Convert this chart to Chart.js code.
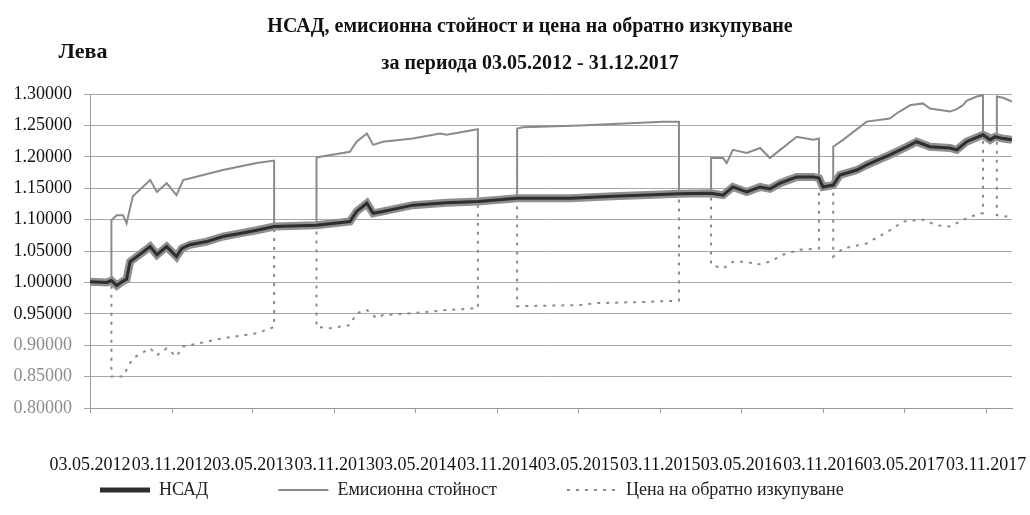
<!DOCTYPE html>
<html lang="bg">
<head>
<meta charset="utf-8">
<title>НСАД, емисионна стойност и цена на обратно изкупуване</title>
<script src="https://cdn.jsdelivr.net/npm/chart.js@4.4.1/dist/chart.umd.min.js"></script>
<style>
  html, body { margin: 0; padding: 0; background: #fff; }
  #wrap { width: 1030px; height: 515px; }
</style>
</head>
<body>
<div id="wrap"><canvas id="navChart" width="1030" height="515"></canvas></div>
<script>
// values (dates approximate)
const navDates = ['2012-05-03', '2012-06-10', '2012-06-20', '2012-07-02', '2012-07-16', '2012-07-24', '2012-08-01',
  '2012-08-16', '2012-09-15', '2012-09-30', '2012-10-22', '2012-11-13', '2012-11-25', '2012-12-13', '2013-01-20',
  '2013-02-25', '2013-04-04', '2013-05-12', '2013-06-20', '2013-09-23', '2013-12-07', '2013-12-22', '2014-01-14',
  '2014-01-28', '2014-02-19', '2014-04-27', '2014-07-12', '2014-09-20', '2014-12-17', '2015-04-15', '2015-07-20',
  '2015-10-04', '2015-12-15', '2016-02-25', '2016-03-23', '2016-04-14', '2016-05-15', '2016-06-14', '2016-07-06',
  '2016-07-29', '2016-09-04', '2016-10-11', '2016-10-24', '2016-11-02', '2016-11-25', '2016-12-10', '2017-01-17',
  '2017-02-08', '2017-04-01', '2017-05-09', '2017-05-31', '2017-06-30', '2017-08-14', '2017-08-29', '2017-09-20',
  '2017-10-27', '2017-11-12', '2017-11-23', '2017-12-11', '2017-12-31'];
const navValues = [1.001, 1.000, 1.003, 0.995, 1.002, 1.005, 1.033,
  1.041, 1.057, 1.044, 1.057, 1.041, 1.054, 1.060, 1.065,
  1.073, 1.078, 1.083, 1.089, 1.091, 1.097, 1.113, 1.126,
  1.110, 1.113, 1.123, 1.127, 1.129, 1.134, 1.134, 1.137,
  1.139, 1.141, 1.142, 1.139, 1.152, 1.144, 1.152, 1.149,
  1.158, 1.168, 1.168, 1.166, 1.152, 1.155, 1.171, 1.179,
  1.187, 1.203, 1.216, 1.224, 1.216, 1.214, 1.211, 1.224,
  1.235, 1.227, 1.232, 1.229, 1.227];

const emisDates = ['2012-05-03', '2012-06-10', '2012-06-20', '2012-06-20', '2012-07-02', '2012-07-16', '2012-07-24',
  '2012-08-07', '2012-09-15', '2012-09-30', '2012-10-22', '2012-11-13', '2012-11-28', '2013-02-25', '2013-05-12',
  '2013-06-20', '2013-06-20', '2013-09-23', '2013-09-23', '2013-10-08', '2013-12-07', '2013-12-22', '2014-01-14',
  '2014-01-28', '2014-02-19', '2014-04-27', '2014-06-27', '2014-07-12', '2014-09-20', '2014-09-20', '2014-12-17',
  '2014-12-17', '2014-12-30', '2015-05-07', '2015-11-09', '2015-12-15', '2015-12-15', '2016-02-25', '2016-02-25',
  '2016-03-23', '2016-03-31', '2016-04-14', '2016-05-15', '2016-06-14', '2016-07-06', '2016-07-29', '2016-09-04',
  '2016-10-11', '2016-10-24', '2016-10-24', '2016-11-25', '2016-11-25', '2016-12-17', '2017-02-08', '2017-04-01',
  '2017-04-16', '2017-05-16', '2017-06-14', '2017-06-30', '2017-08-14', '2017-08-29', '2017-09-12', '2017-09-20',
  '2017-10-13', '2017-10-27', '2017-10-27', '2017-11-27', '2017-11-27', '2017-12-11', '2017-12-31'];
const emisValues = [1.001, 1.000, 1.003, 1.099, 1.107, 1.107, 1.094,
  1.137, 1.163, 1.144, 1.158, 1.139, 1.163, 1.179, 1.190,
  1.194, 1.089, 1.091, 1.199, 1.201, 1.208, 1.224, 1.237,
  1.219, 1.224, 1.229, 1.237, 1.235, 1.244, 1.129, 1.134,
  1.245, 1.247, 1.250, 1.256, 1.256, 1.141, 1.142, 1.198,
  1.198, 1.190, 1.211, 1.206, 1.214, 1.198, 1.211, 1.232,
  1.227, 1.229, 1.160, 1.155, 1.216, 1.227, 1.256, 1.261,
  1.269, 1.282, 1.285, 1.277, 1.272, 1.276, 1.282, 1.289,
  1.296, 1.298, 1.240, 1.230, 1.296, 1.294, 1.288];

const redDates = ['2012-05-03', '2012-06-10', '2012-06-20', '2012-06-20', '2012-07-16', '2012-07-24', '2012-08-07',
  '2012-09-15', '2012-09-30', '2012-10-22', '2012-11-13', '2012-11-28', '2013-02-25', '2013-05-12', '2013-06-20',
  '2013-06-20', '2013-09-23', '2013-09-23', '2013-10-23', '2013-12-07', '2013-12-22', '2014-01-14', '2014-02-05',
  '2014-02-19', '2014-04-27', '2014-07-12', '2014-09-20', '2014-09-20', '2014-12-17', '2014-12-17', '2015-05-07',
  '2015-06-14', '2015-10-04', '2015-12-15', '2015-12-15', '2016-02-25', '2016-02-25', '2016-03-23', '2016-04-14',
  '2016-05-15', '2016-06-06', '2016-07-06', '2016-08-04', '2016-09-11', '2016-10-24', '2016-10-24', '2016-11-25',
  '2016-11-25', '2016-12-17', '2017-02-08', '2017-04-01', '2017-05-01', '2017-06-14', '2017-07-15', '2017-08-14',
  '2017-09-20', '2017-10-20', '2017-10-27', '2017-10-27', '2017-11-27', '2017-11-27', '2017-12-31'];
const redValues = [1.001, 1.000, 1.003, 0.850, 0.850, 0.861, 0.879,
  0.895, 0.884, 0.895, 0.882, 0.898, 0.911, 0.919, 0.929,
  1.089, 1.091, 0.929, 0.927, 0.932, 0.951, 0.956, 0.943,
  0.948, 0.951, 0.956, 0.959, 1.129, 1.134, 0.962, 0.964,
  0.967, 0.969, 0.971, 1.141, 1.142, 1.028, 1.022, 1.033,
  1.033, 1.028, 1.033, 1.044, 1.052, 1.054, 1.160, 1.155,
  1.041, 1.054, 1.062, 1.083, 1.097, 1.100, 1.091, 1.089,
  1.102, 1.110, 1.110, 1.235, 1.230, 1.107, 1.104];

const tickDates = ['2012-05-03', '2012-11-03', '2013-05-03', '2013-11-03', '2014-05-03', '2014-11-03',
  '2015-05-03', '2015-11-03', '2016-05-03', '2016-11-03', '2017-05-03', '2017-11-03'];
const tickLabels = ['03.05.2012', '03.11.2012', '03.05.2013', '03.11.2013', '03.05.2014', '03.11.2014',
  '03.05.2015', '03.11.2015', '03.05.2016', '03.11.2016', '03.05.2017', '03.11.2017'];
const periodEnd = '2017-12-31';

const serif = "'Liberation Serif', 'Times New Roman', serif";
const t0 = Date.UTC(2012, 4, 3);
const legendGap = 70;

function dayNum(s) {
  const [y, m, d] = s.split('-').map(Number);
  return Math.round((Date.UTC(y, m - 1, d) - t0) / 864e5);
}

function points(dates, values) {
  return dates.map((d, i) => ({ x: dayNum(d), y: values[i] }));
}

// "Лева" over the value axis; nudge titles right and pull the wide-spaced legend back up
const extras = {
  id: 'extras',
  afterLayout(chart) {
    chart.boxes.filter(b => b.position === 'top').forEach(b => { b.left += 15; b.right += 15; });
    chart.legend.top -= legendGap - 6;
    chart.legend.left += 30;
  },
  afterDraw(chart) {
    const c = chart.ctx;
    c.save();
    c.font = `bold 22px ${serif}`;
    c.fillStyle = '#111';
    c.textAlign = 'center';
    c.textBaseline = 'middle';
    c.fillText('Лева', 83, 52);
    c.restore();
  }
};

const navPts = points(navDates, navValues);

new Chart(document.getElementById('navChart'), {
  type: 'line',
  data: {
    datasets: [
      { label: 'НСАД', data: navPts, borderColor: '#2e2e2e', borderWidth: 3 },
      { label: 'halo', data: navPts, borderColor: '#8f8f8f', borderWidth: 8 },
      { label: 'Емисионна стойност', data: points(emisDates, emisValues), borderColor: '#8a8a8a', borderWidth: 2 },
      { label: 'Цена на обратно изкупуване', data: points(redDates, redValues), borderColor: '#8a8a8a',
        borderWidth: 2, borderDash: [3, 6] }
    ]
  },
  options: {
    responsive: false,
    devicePixelRatio: 1,
    animation: false,
    parsing: false,
    elements: { point: { radius: 0 }, line: { tension: 0, fill: false } },
    layout: { padding: { left: 0, right: 0, bottom: 6 } },
    plugins: {
      tooltip: { enabled: false },
      title: {
        display: true,
        text: 'НСАД, емисионна стойност и цена на обратно изкупуване',
        color: '#111',
        font: { family: serif, size: 20, weight: 'bold', lineHeight: 1.2 },
        padding: { top: 15, bottom: 4 }
      },
      subtitle: {
        display: true,
        text: 'за периода 03.05.2012 - 31.12.2017',
        color: '#111',
        font: { family: serif, size: 20, weight: 'bold', lineHeight: 1.2 },
        padding: { top: 9, bottom: 18 }
      },
      legend: {
        position: 'bottom',
        align: 'start',
        maxHeight: 34,
        labels: {
          color: '#222',
          font: { family: serif, size: 18 },
          usePointStyle: true,
          pointStyleWidth: 50,
          padding: legendGap,
          generateLabels: chart => chart.data.datasets
            .map((ds, i) => ({
              text: ds.label,
              datasetIndex: i,
              fillStyle: ds.borderColor,
              strokeStyle: ds.borderColor,
              lineWidth: i === 0 ? 5 : ds.borderWidth,
              lineDash: ds.borderDash || [],
              pointStyle: 'line',
              fontColor: '#222',
              hidden: false
            }))
            .filter(item => item.text !== 'halo')
        }
      }
    },
    scales: {
      x: {
        type: 'linear',
        min: 0,
        max: dayNum(periodEnd),
        afterBuildTicks: scale => { scale.ticks = tickDates.map(d => ({ value: dayNum(d) })); },
        afterFit: scale => { scale.paddingRight = 18; scale.height = 67; },
        ticks: {
          autoSkip: false,
          maxRotation: 0,
          padding: 41,
          color: '#111',
          font: { family: serif, size: 18 },
          callback: (v, i) => tickLabels[i]
        },
        grid: { drawOnChartArea: false, color: '#9a9a9a', tickLength: 5 },
        border: { color: '#9a9a9a' }
      },
      y: {
        min: 0.8,
        max: 1.3,
        afterFit: scale => { scale.width = 90; },
        ticks: {
          stepSize: 0.05,
          autoSkip: false,
          padding: 12,
          color: ctx => ctx.tick.value < 0.92 ? '#8c8c8c' : '#111',
          font: { family: serif, size: 18 },
          callback: v => v.toFixed(5)
        },
        grid: { color: '#a8a8a8', tickLength: 6 },
        border: { color: '#9a9a9a' }
      }
    }
  },
  plugins: [extras]
});
</script>
</body>
</html>
